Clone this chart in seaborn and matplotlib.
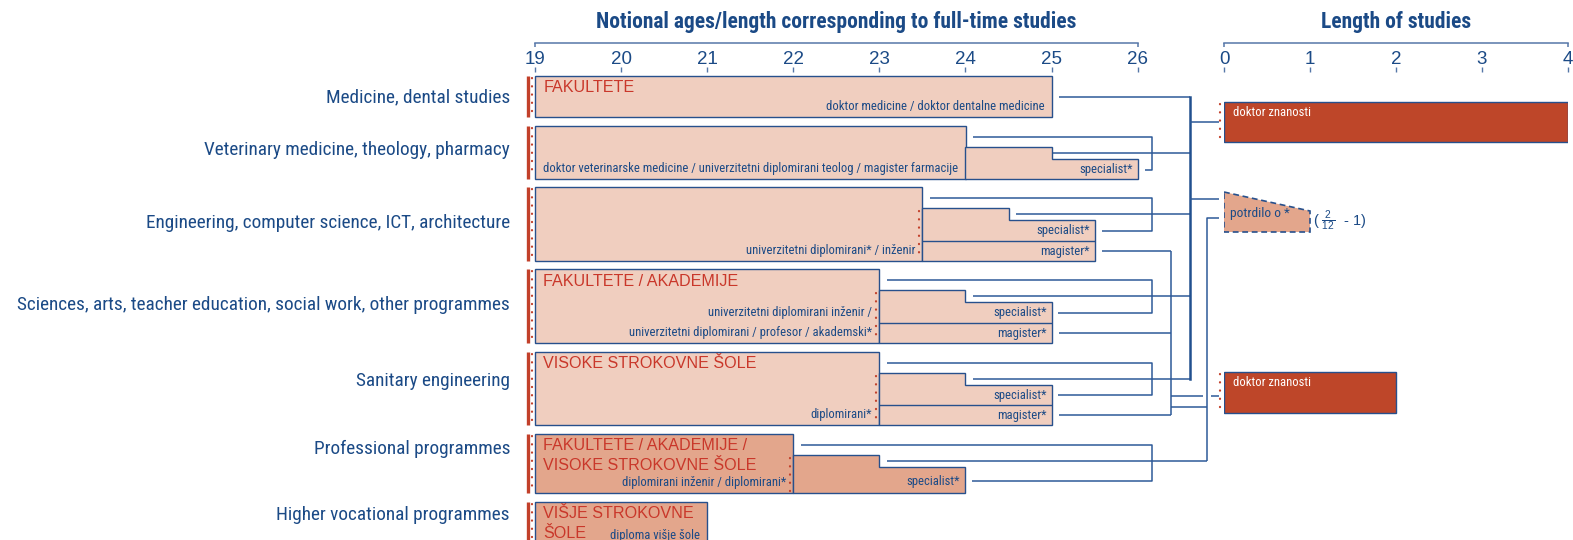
import os
import numpy as np
import pandas as pd
import matplotlib
matplotlib.use("Agg")
import matplotlib.pyplot as plt
import seaborn as sns
from matplotlib import font_manager

# ---------------- data ----------------
programmes = [
    "Medicine, dental studies",
    "Veterinary medicine, theology, pharmacy",
    "Engineering, computer science, ICT, architecture",
    "Sciences, arts, teacher education, social work, other programmes",
    "Sanitary engineering",
    "Professional programmes",
    "Higher vocational programmes",
]
institutions = [
    "FAKULTETE",
    "",
    "",
    "FAKULTETE / AKADEMIJE",
    "VISOKE STROKOVNE ŠOLE",
    "FAKULTETE / AKADEMIJE /\nVISOKE STROKOVNE ŠOLE",
    "VIŠJE STROKOVNE\nŠOLE",
]
start_age = [19, 19, 19, 19, 19, 19, 19]
first_end_age = [25, 24, 23.5, 23, 23, 22, 21]
first_qualification = [
    "doktor medicine / doktor dentalne medicine",
    "doktor veterinarske medicine / univerzitetni diplomirani teolog / magister farmacije",
    "univerzitetni diplomirani* / inženir",
    "univerzitetni diplomirani inženir /\nuniverzitetni diplomirani / profesor / akademski*",
    "diplomirani*",
    "diplomirani inženir / diplomirani*",
    "diploma višje šole",
]
specialist_min_years = [np.nan, 1, 1, 1, 1, 1, np.nan]
specialist_max_years = [np.nan, 2, 2, 2, 2, 2, np.nan]
magister_years = [np.nan, np.nan, 2, 2, 2, np.nan, np.nan]
professional_track = [False, False, False, False, False, True, True]
specialist_label = "specialist*"
magister_label = "magister*"

age_ticks = [19, 20, 21, 22, 23, 24, 25, 26]
length_ticks = [0, 1, 2, 3, 4]
doctorate_labels = ["doktor znanosti", "doktor znanosti"]
doctorate_years = [4, 2]
certificate_label = "potrdilo o *"
certificate_years_text = r"( $\frac{2}{12}$  - 1)"
certificate_max_years = 1

title_left = "Notional ages/length corresponding to full-time studies"
title_right = "Length of studies"

# ---------------- layout (pixels) ----------------
W, H = 1573, 540
PX0, PPY = 535.0, 86.1          # pixel of age 19, pixels per year


def px_to_age(px):
    return 19 + (px - PX0) / PPY


row_top = [76, 126, 187, 269, 352, 434, 502]
row_bottom = [117, 179, 261, 343, 425, 493, 546]
label_baseline = [102.5, 155, 228, 309.5, 386.5, 454.5, 520.5]
inner_dots = [False, False, True, True, True, True, False]
STEP_DROP, STEP_H, DIV_H = 20.5, 12.5, 20
AXIS_Y = 43

BRACKET_X = px_to_age(1152)
DOC_BUS_X = px_to_age(1190)
MAG_BUS_X = px_to_age(1171)
POT_BUS_X = px_to_age(1207)
LINK_END_X = px_to_age(1218.5)

doc_top = [101.5, 372]
doc_bottom = [142, 413]
cert_top_left, cert_top_right, cert_bottom = 192, 211, 232

# ---------------- style ----------------
BLUE = "#1B4A86"
EDGE = "#27508C"
LINE = "#2D5A98"
AXIS_COL = "#5677A8"
RED_TXT = "#C9372A"
RED = "#C2402A"
PEACH = "#F0CEBF"
PEACH_DARK = "#E3A68C"
DOC = "#BE4629"

sns.set_theme(style="white")


def narrow_family():
    cands = ["Liberation Sans Narrow", "Roboto Condensed", "Open Sans Condensed",
             "Noto Sans", "Open Sans", "Roboto", "DejaVu Sans"]
    for fam in cands:
        try:
            p = font_manager.findfont(
                font_manager.FontProperties(family=fam, stretch="condensed"),
                fallback_to_default=False)
        except Exception:
            continue
        b = os.path.basename(p).lower()
        if "narrow" in b or "cond" in b:
            return fam
    return "DejaVu Sans"


NARROW = narrow_family()
plt.rcParams["font.family"] = ["Liberation Sans", "DejaVu Sans"]
plt.rcParams["mathtext.fontset"] = "custom"
plt.rcParams["mathtext.rm"] = "Liberation Sans"
NKW = dict(family=[NARROW, "DejaVu Sans"], fontstretch="condensed")
INNER = 9.1

fig = plt.figure(figsize=(W / 100, H / 100), dpi=100)
ax = fig.add_axes([0, 0, 1, 1])
ax.set_xlim(px_to_age(0), px_to_age(W))
ax.set_ylim(H, 0)
ax2 = fig.add_axes([1224 / W, 0, 344 / W, 1])
ax2.set_xlim(0, 4)
ax2.set_ylim(H, 0)

for a, ticks in [(ax, age_ticks), (ax2, length_ticks)]:
    a.set_facecolor("none")
    a.grid(False)
    for s in ["left", "right", "top"]:
        a.spines[s].set_visible(False)
    sp = a.spines["bottom"]
    sp.set_visible(True)
    sp.set_position(("data", AXIS_Y))
    sp.set_bounds(ticks[0], ticks[-1])
    sp.set_color(AXIS_COL)
    sp.set_linewidth(1.1)
    a.set_xticks(ticks)
    a.set_xticklabels([str(t) for t in ticks])
    a.tick_params(axis="x", bottom=True, length=0, pad=5.5, labelsize=13.5,
                  labelcolor=BLUE)
    a.set_yticks([])
    a.vlines(ticks, 67, 72, color=AXIS_COL, lw=1.0, clip_on=False)
    a.vlines([ticks[0], ticks[-1]], AXIS_Y, AXIS_Y + 4, color=AXIS_COL, lw=1.1,
             clip_on=False)

ax.text(np.mean([age_ticks[0], age_ticks[-1]]), 22, title_left, ha="center",
        va="center", color=BLUE, fontsize=15.5, fontweight="bold", **NKW)
ax2.text(np.mean([length_ticks[0], length_ticks[-1]]), 22, title_right,
         ha="center", va="center", color=BLUE, fontsize=15.5, fontweight="bold",
         **NKW)

line_kw = dict(color=LINE, lw=1.1, solid_capstyle="butt", zorder=1)
dot_kw = dict(color=RED, lw=1.6, linestyle=(0, (0.1, 3.6)),
              dash_capstyle="round", zorder=4)


def conn(xs, ys, **kw):
    k = dict(line_kw)
    k.update(kw)
    ax.plot(xs, ys, **k)


for i, name in enumerate(programmes):
    top, bot = row_top[i], row_bottom[i]
    fill = PEACH_DARK if professional_track[i] else PEACH
    s0, fe = start_age[i], first_end_age[i]

    # programme label
    ax.text(px_to_age(510), label_baseline[i], name, ha="right",
            va="baseline", color=BLUE, fontsize=13.9, **NKW)

    # left access marker
    ax.vlines(px_to_age(528.3), top, bot, color=RED, lw=2.4, zorder=4)
    ax.plot([px_to_age(532)] * 2, [top + 2, bot - 2], **dot_kw)

    # first degree box
    ax.barh((top + bot) / 2, fe - s0, left=s0, height=bot - top, color=fill,
            edgecolor=EDGE, linewidth=1.0, zorder=2)

    # institution (red)
    for k, ln in enumerate(institutions[i].split("\n")):
        if ln:
            ax.text(s0 + 0.095, top + 12 + 20 * k, ln, ha="left", va="center",
                    color=RED_TXT, fontsize=11.6, zorder=5)

    # first qualification (bottom right)
    q_lines = first_qualification[i].split("\n")
    for k, ln in enumerate(q_lines):
        y = bot - 10.5 - 20 * (len(q_lines) - 1 - k)
        ax.text(fe - 0.085, y, ln, ha="right", va="center", color=BLUE,
                fontsize=INNER, zorder=5, **NKW)

    if inner_dots[i]:
        ax.plot([fe - 0.04] * 2, [top + STEP_DROP + 3, bot - 2], **dot_kw)

    if np.isnan(specialist_min_years[i]):
        if i == 0:
            conn([fe + 0.09, DOC_BUS_X], [(top + bot) / 2] * 2)
        continue

    sx = fe + specialist_min_years[i]
    ex = fe + specialist_max_years[i]
    et = top + STEP_DROP
    st = et + STEP_H
    ax.fill([fe, sx, sx, ex, ex, fe], [et, et, st, st, bot, bot],
            facecolor=fill, edgecolor=EDGE, linewidth=1.0, zorder=2)

    has_mag = not np.isnan(magister_years[i])
    if has_mag:
        div = bot - DIV_H
        mx = fe + magister_years[i]
        ax.hlines(div, fe, mx, color=EDGE, lw=1.0, zorder=3)
        spec_y = (st + div) / 2
        mag_y = (div + bot) / 2
        ax.text(mx - 0.06, mag_y, magister_label, ha="right", va="center",
                color=BLUE, fontsize=INNER, zorder=5, **NKW)
        conn([mx + 0.09, MAG_BUS_X], [mag_y] * 2)
    else:
        spec_y = (st + bot) / 2 + 1
    ax.text(ex - 0.06, spec_y, specialist_label, ha="right", va="center",
            color=BLUE, fontsize=INNER, zorder=5, **NKW)

    # bracket: first degree -> specialist
    by = top + 10.5
    conn([fe + 0.09, BRACKET_X, BRACKET_X, ex + 0.08], [by, by, spec_y, spec_y])
    # link from the step to doctoral / certificate bus
    sy = (et + st) / 2
    target = POT_BUS_X if professional_track[i] else DOC_BUS_X
    conn([sx + 0.09 if i > 1 else sx, target], [sy, sy])

# buses
bus_top = (row_top[0] + row_bottom[0]) / 2
bus_bot = (row_top[4] + STEP_DROP + row_top[4] + STEP_DROP + STEP_H) / 2
ax.plot([DOC_BUS_X, DOC_BUS_X], [bus_top, bus_bot], color="#21508F", lw=1.8,
        zorder=1, solid_capstyle="projecting")
mag_first = row_bottom[2] - 10
mag_last = row_bottom[4] - 10
conn([MAG_BUS_X, MAG_BUS_X], [mag_first, mag_last])
doc1_y = (doc_top[0] + doc_bottom[0]) / 2
doc2_y = (doc_top[1] + doc_bottom[1]) / 2
conn([DOC_BUS_X, LINK_END_X], [doc1_y, doc1_y])
conn([DOC_BUS_X, LINK_END_X], [cert_top_left + 7] * 2)
pot_top = cert_top_left + 26
pot_bot = (row_top[5] + STEP_DROP + row_top[5] + STEP_DROP + STEP_H) / 2
conn([LINK_END_X, POT_BUS_X, POT_BUS_X], [pot_top, pot_top, pot_bot])
conn([MAG_BUS_X, POT_BUS_X - 0.05], [doc2_y + 3.5] * 2)
conn([POT_BUS_X + 0.05, LINK_END_X], [doc2_y + 3.5] * 2)
conn([MAG_BUS_X, POT_BUS_X], [doc2_y + 14.5] * 2)

# ---------------- right panel ----------------
for j, lab in enumerate(doctorate_labels):
    t, b = doc_top[j], doc_bottom[j]
    ax2.barh((t + b) / 2, doctorate_years[j], left=0, height=b - t, color=DOC,
             edgecolor=EDGE, linewidth=1.0, zorder=2)
    ax2.plot([-0.045] * 2, [t + 2, b - 2], clip_on=False, **dot_kw)
    ax2.text(0.11, t + 11, lab, ha="left", va="center", color="white",
             fontsize=INNER, zorder=5, **NKW)

ax2.fill([0, certificate_max_years, certificate_max_years, 0],
         [cert_top_left, cert_top_right, cert_bottom, cert_bottom],
         facecolor=PEACH_DARK, edgecolor=EDGE, linewidth=1.2,
         linestyle=(0, (3.5, 2.2)), zorder=2)
ax2.text(0.07, 213, certificate_label, ha="left", va="center",
         color=BLUE, fontsize=INNER + 0.5, zorder=5, **NKW)
ax2.text(certificate_max_years + 0.04, 221, certificate_years_text,
         ha="left", va="center", color=BLUE, fontsize=10.5, zorder=5)

ax2.text(3.88, 553, "6", ha="center", va="center", color=BLUE, fontsize=17,
         fontweight="bold", clip_on=False)

fig.savefig("out.png", dpi=100)
